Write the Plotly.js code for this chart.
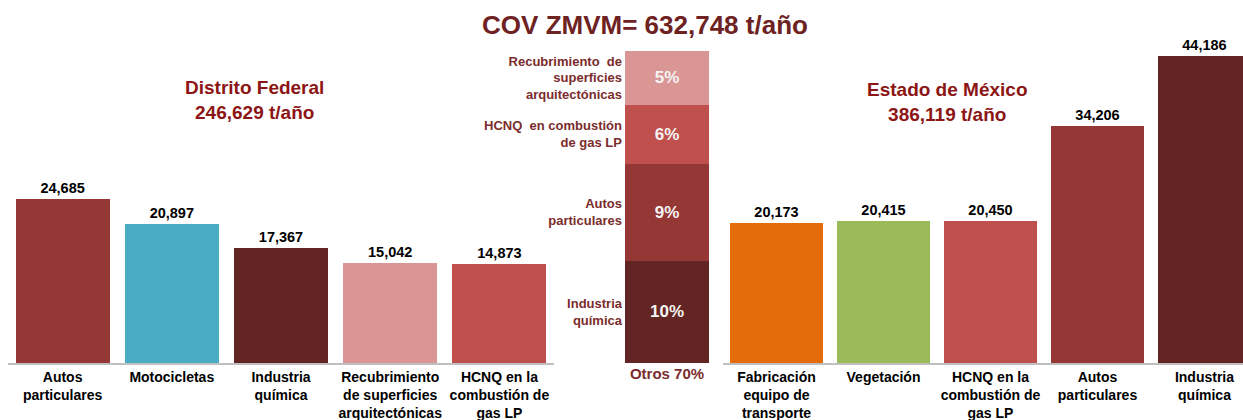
<!DOCTYPE html>
<html>
<head>
<meta charset="utf-8">
<script src="https://cdn.plot.ly/plotly-3.0.1.min.js"></script>
<style>html,body{margin:0;padding:0;background:#fff;}#chart{width:1243px;height:420px;}</style>
</head>
<body>
<div id="chart"></div>
<script>
// ---- Data ----
const dfCategories = ["Autos<br>particulares", "Motocicletas", "Industria<br>química", "Recubrimiento<br>de superficies<br>arquitectónicas", "HCNQ en la<br>combustión de<br>gas LP"];
const dfValues = [24685, 20897, 17367, 15042, 14873];

const emCategories = ["Fabricación<br>equipo de<br>transporte", "Vegetación", "HCNQ en la<br>combustión de<br>gas LP", "Autos<br>particulares", "Industria<br>química"];
const emValues = [20173, 20415, 20450, 34206, 44186];

const zmvmSegments = ["Industria<br>química", "Autos<br>particulares", "HCNQ  en combustión<br>de gas LP", "Recubrimiento  de<br>superficies<br>arquitectónicas"];
const zmvmPercents = [9.8, 9.3, 5.6, 5.2];
const zmvmCategory = ["Otros 70%"];

const mainTitle = "COV ZMVM= 632,748 t/año";
const dfTitle = "Distrito Federal<br>246,629 t/año";
const emTitle = "Estado de México<br>386,119 t/año";

// ---- Styles ----
const dfColors = ["#953735", "#4bacc6", "#632523", "#d99694", "#c0504d"];
const emColors = ["#e46c0a", "#9bbb59", "#c0504d", "#953735", "#632523"];
const segColors = ["#632523", "#953735", "#c0504d", "#d99694"];
const FONT = "Liberation Sans, Arial, sans-serif";
const darkRed = "#7b2c2c";

const traces = [];
traces.push({
  type: "bar", x: dfCategories, y: dfValues, xaxis: "x", yaxis: "y",
  width: 0.86,
  marker: {color: dfColors},
  texttemplate: "%{y:,.0f}", textposition: "outside", cliponaxis: false,
  textfont: {family: FONT, size: 14.5, color: "#000", weight: "bold"},
  hoverinfo: "x+y"
});
traces.push({
  type: "bar", x: emCategories, y: emValues, xaxis: "x3", yaxis: "y3",
  width: 0.87,
  marker: {color: emColors},
  texttemplate: "%{y:,.0f}", textposition: "outside", cliponaxis: false,
  textfont: {family: FONT, size: 14.5, color: "#000", weight: "bold"},
  hoverinfo: "x+y"
});
zmvmPercents.forEach((p, i) => {
  traces.push({
    type: "bar", x: zmvmCategory, y: [p], xaxis: "x2", yaxis: "y2",
    width: 1, name: zmvmSegments[i],
    marker: {color: segColors[i], line: {width: 0}},
    text: [Math.round(p) + "%"], textposition: "inside", insidetextanchor: "middle",
    textangle: 0,
    textfont: {family: FONT, size: 17, color: "#f4f4f4", weight: "bold"},
    hoverinfo: "name+y"
  });
});

// tick positions at the centre of each stacked segment
const segCenters = [];
let acc = 0;
zmvmPercents.forEach(p => { segCenters.push(acc + p / 2); acc += p; });

const W = 1243, H = 420;
const yDom = [57 / H, 400 / H];

const layout = {
  width: W, height: H,
  margin: {l: 0, r: 0, t: 0, b: 0},
  paper_bgcolor: "#fff", plot_bgcolor: "rgba(0,0,0,0)",
  showlegend: false, barmode: "stack",
  font: {family: FONT},
  title: {
    text: mainTitle, x: 645 / W, xanchor: "center", y: 1 - 25 / H, yanchor: "middle",
    yref: "container", xref: "paper",
    font: {family: FONT, size: 26, color: "#6e2222", weight: "bold"}
  },
  xaxis: {
    domain: [8 / W, 554 / W], range: [-0.5, 4.5], anchor: "y",
    showline: true, linecolor: "#bfbfbf", linewidth: 2, ticks: "",
    tickfont: {family: FONT, size: 14, color: "#000", weight: "bold"},
    fixedrange: true
  },
  yaxis: {
    domain: yDom, range: [0, 51660], anchor: "x",
    visible: false, showgrid: false, zeroline: false, fixedrange: true
  },
  xaxis2: {
    domain: [625 / W, 709 / W], range: [-0.5, 0.5], anchor: "y2",
    showline: false, ticks: "",
    tickfont: {family: FONT, size: 15, color: darkRed, weight: "bold"},
    fixedrange: true
  },
  yaxis2: {
    domain: yDom, range: [0, 32.85], anchor: "x2",
    tickvals: segCenters, ticktext: zmvmSegments,
    showgrid: false, zeroline: false, showline: false, ticks: "",
    ticklabelstandoff: 2,
    tickfont: {family: FONT, size: 13, color: darkRed, weight: "bold"},
    fixedrange: true
  },
  xaxis3: {
    domain: [723 / W, 1], range: [-0.5, 4.36], anchor: "y3",
    showline: true, linecolor: "#bfbfbf", linewidth: 2, ticks: "",
    tickfont: {family: FONT, size: 14, color: "#000", weight: "bold"},
    fixedrange: true
  },
  yaxis3: {
    domain: yDom, range: [0, 49420], anchor: "x3",
    visible: false, showgrid: false, zeroline: false, fixedrange: true
  },
  annotations: [
    {text: dfTitle, xref: "paper", yref: "paper", x: 254 / W, y: 1 - 100 / H,
     xanchor: "center", yanchor: "middle", showarrow: false,
     font: {family: FONT, size: 19, color: "#8c1515", weight: "bold"}},
    {text: emTitle, xref: "paper", yref: "paper", x: 947 / W, y: 1 - 102 / H,
     xanchor: "center", yanchor: "middle", showarrow: false,
     font: {family: FONT, size: 19, color: "#8c1515", weight: "bold"}}
  ]
};

Plotly.newPlot("chart", traces, layout, {displayModeBar: false, staticPlot: true});
</script>
</body>
</html>
